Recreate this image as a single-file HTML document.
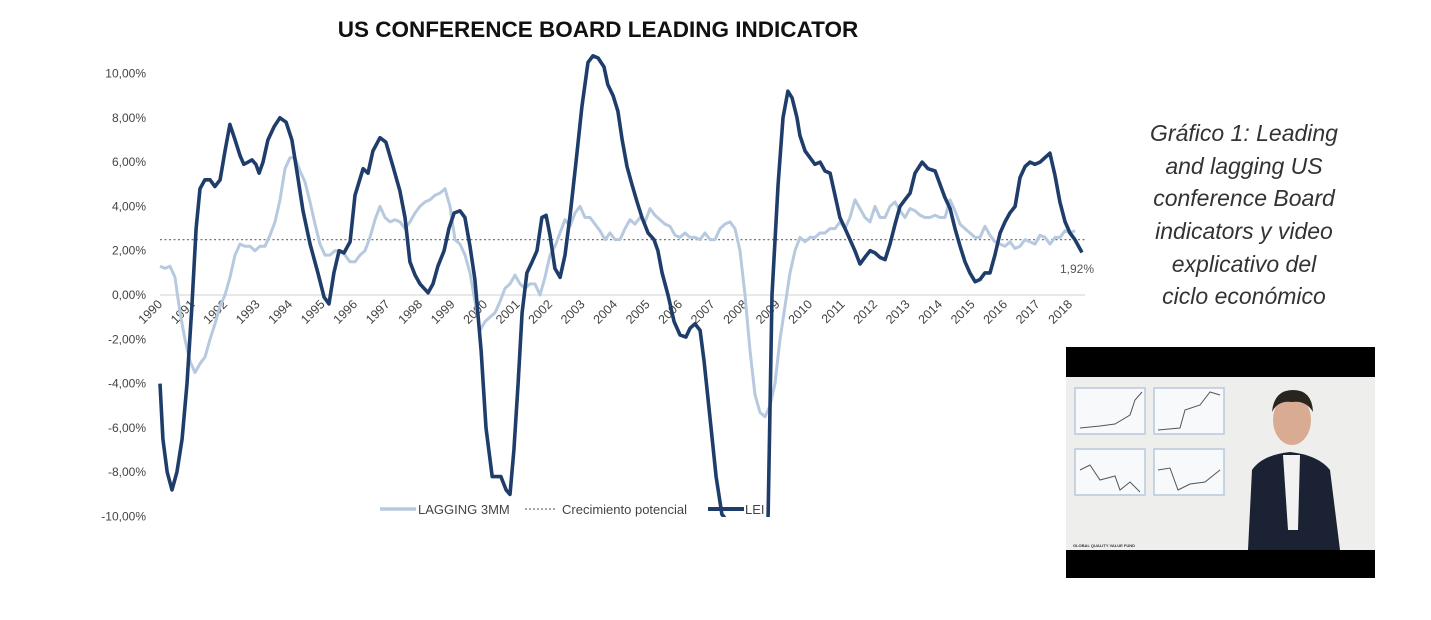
<!DOCTYPE html>
<html><head><meta charset="utf-8">
<style>
body{margin:0;background:#fff;width:1431px;height:615px;overflow:hidden;font-family:"Liberation Sans",sans-serif;}
</style></head>
<body>
<svg width="1431" height="615" viewBox="0 0 1431 615" xmlns="http://www.w3.org/2000/svg">
<defs><clipPath id="plot"><rect x="150" y="40" width="950" height="477"/></clipPath></defs>
<text x="598" y="37" text-anchor="middle" font-size="22.5" font-weight="bold" fill="#111">US CONFERENCE BOARD LEADING INDICATOR</text>
<g id="yaxis"></g>
<g id="xaxis"></g>
<g id="series" clip-path="url(#plot)"></g>
<text x="1060" y="273" font-size="12" fill="#555">1,92%</text>
<g>
 <g><line x1="380" y1="509" x2="416" y2="509" stroke="#b7c9de" stroke-width="3.5"/><text x="418" y="514" font-size="13" fill="#444">LAGGING 3MM</text></g>
 <g><line x1="525" y1="509" x2="555" y2="509" stroke="#777" stroke-width="1.3" stroke-dasharray="2,2"/><text x="562" y="514" font-size="13" fill="#444">Crecimiento potencial</text></g>
 <g><line x1="708" y1="509" x2="744" y2="509" stroke="#1f3d6b" stroke-width="4"/><text x="745" y="514" font-size="13" fill="#444">LEI</text></g>
</g>
<g font-family="'Liberation Sans',sans-serif" font-style="italic" font-size="23" fill="#333" text-anchor="middle">
 <text x="1244" y="141">Gráfico 1: Leading</text>
 <text x="1244" y="174">and lagging US</text>
 <text x="1244" y="206">conference Board</text>
 <text x="1244" y="239">indicators y video</text>
 <text x="1244" y="272">explicativo del</text>
 <text x="1244" y="304">ciclo económico</text>
</g>
<g>
 <rect x="1066" y="347" width="309" height="231" fill="#000"/>
 <rect x="1066" y="377" width="309" height="173" fill="#eeeeec"/>
 <g fill="#f7f9fb" stroke="#b9c9dc" stroke-width="1.5">
  <rect x="1075" y="388" width="70" height="46"/><rect x="1154" y="388" width="70" height="46"/>
  <rect x="1075" y="449" width="70" height="46"/><rect x="1154" y="449" width="70" height="46"/>
 </g>
 <polyline points="1080,428 1100,426 1115,424 1130,415 1135,400 1142,392" fill="none" stroke="#555" stroke-width="1"/>
 <polyline points="1158,430 1180,428 1185,410 1200,405 1210,392 1220,395" fill="none" stroke="#555" stroke-width="1"/>
 <polyline points="1080,470 1090,465 1100,480 1115,476 1120,490 1130,482 1140,492" fill="none" stroke="#555" stroke-width="1"/>
 <polyline points="1158,470 1170,468 1178,490 1190,484 1205,482 1220,470" fill="none" stroke="#555" stroke-width="1"/>
 <text x="1073" y="547" font-size="4" font-weight="bold" fill="#333">GLOBAL QUALITY VALUE FUND</text>
 <path d="M1248,550 L1252,470 Q1262,455 1290,452 Q1318,455 1330,470 L1340,550 Z" fill="#1a2233"/>
 <path d="M1283,455 L1300,455 L1298,530 L1288,530 Z" fill="#f2f2f2"/>
 <ellipse cx="1292" cy="420" rx="19" ry="25" fill="#d9ab93"/>
 <path d="M1272,412 Q1274,390 1293,390 Q1312,390 1313,412 Q1306,400 1292,402 Q1278,400 1272,412Z" fill="#2a2420"/>
</g>
<script>
var yTicks=[10,8,6,4,2,0,-2,-4,-6,-8,-10];
var yTickLabels=["10,00%","8,00%","6,00%","4,00%","2,00%","0,00%","-2,00%","-4,00%","-6,00%","-8,00%","-10,00%"];
var years=[1990,1991,1992,1993,1994,1995,1996,1997,1998,1999,2000,2001,2002,2003,2004,2005,2006,2007,2008,2009,2010,2011,2012,2013,2014,2015,2016,2017,2018];
var potential=2.5;
var lagStart=1990, lagStep=5/32.5;
var lagValues=[1.3,1.2,1.3,0.8,-0.8,-2.0,-3.0,-3.5,-3.1,-2.8,-2.0,-1.3,-0.5,0.0,0.8,1.8,2.3,2.2,2.2,2.0,2.2,2.2,2.7,3.3,4.3,5.7,6.2,6.2,5.6,5.1,4.2,3.2,2.3,1.8,1.8,2.0,2.0,1.8,1.5,1.5,1.8,2.0,2.6,3.4,4.0,3.5,3.3,3.4,3.3,3.0,3.3,3.7,4.0,4.2,4.3,4.5,4.6,4.8,4.0,2.5,2.3,1.8,1.0,-0.3,-1.6,-1.2,-1.0,-0.8,-0.3,0.3,0.5,0.9,0.5,0.3,0.5,0.5,0.0,0.8,1.8,2.2,2.8,3.4,3.1,3.7,4.0,3.5,3.5,3.2,2.9,2.5,2.8,2.5,2.5,3.0,3.4,3.2,3.5,3.3,3.9,3.6,3.4,3.2,3.1,2.7,2.6,2.8,2.6,2.6,2.5,2.8,2.5,2.5,3.0,3.2,3.3,3.0,2.0,0.0,-2.5,-4.5,-5.3,-5.5,-5.0,-4.0,-2.0,-0.5,1.0,2.0,2.6,2.4,2.6,2.6,2.8,2.8,3.0,3.0,3.3,3.0,3.5,4.3,3.9,3.5,3.3,4.0,3.5,3.5,4.0,4.2,3.8,3.5,3.9,3.8,3.6,3.5,3.5,3.6,3.5,3.5,4.3,3.8,3.2,3.0,2.8,2.6,2.6,3.1,2.7,2.4,2.3,2.2,2.4,2.1,2.2,2.5,2.4,2.3,2.7,2.6,2.3,2.6,2.6,2.9,2.8,2.9];
var leiYearsSince1990=[0,.09,.22,.37,.52,.68,.83,.98,1.11,1.23,1.38,1.54,1.69,1.85,2.0,2.15,2.31,2.46,2.58,2.71,2.83,2.95,3.05,3.17,3.32,3.51,3.69,3.88,4.06,4.22,4.4,4.62,4.86,5.05,5.2,5.35,5.51,5.66,5.85,6.0,6.25,6.4,6.55,6.77,6.95,7.17,7.38,7.54,7.69,7.85,8.0,8.25,8.4,8.55,8.74,8.89,9.05,9.23,9.38,9.54,9.69,9.88,10.03,10.22,10.37,10.49,10.65,10.77,10.89,11.02,11.14,11.29,11.45,11.6,11.75,11.88,12.0,12.15,12.31,12.46,12.62,12.8,12.98,13.17,13.32,13.48,13.66,13.78,13.94,14.09,14.22,14.37,14.52,14.68,14.83,15.02,15.2,15.32,15.45,15.63,15.82,16.0,16.18,16.31,16.46,16.62,16.74,16.92,17.11,17.29,17.45,17.69,18.46,18.71,18.83,19.02,19.17,19.32,19.45,19.6,19.69,19.85,20.0,20.15,20.31,20.46,20.62,20.77,20.92,21.08,21.23,21.38,21.54,21.69,21.85,22.0,22.15,22.31,22.46,22.62,22.77,22.92,23.08,23.23,23.45,23.63,23.85,24.0,24.15,24.31,24.46,24.62,24.77,24.92,25.08,25.23,25.38,25.54,25.69,25.85,26.0,26.15,26.31,26.46,26.62,26.77,26.92,27.08,27.38,27.54,27.69,27.85,28.0,28.15,28.37];
var leiValues=[-4,-6.5,-8,-8.8,-8,-6.5,-4,-0.5,3,4.8,5.2,5.2,4.9,5.2,6.5,7.7,7.0,6.3,5.9,6.0,6.1,5.9,5.5,6.0,7.0,7.6,8.0,7.8,7.0,5.5,3.8,2.3,1.0,-0.1,-0.4,1.0,2.0,1.9,2.4,4.5,5.7,5.5,6.5,7.1,6.9,5.8,4.7,3.5,1.5,0.9,0.5,0.1,0.5,1.3,2.0,3.0,3.7,3.8,3.5,2.2,0.7,-2.5,-6,-8.2,-8.2,-8.2,-8.8,-9.0,-7,-4,-0.8,1.0,1.5,2.0,3.5,3.6,2.7,1.2,0.8,1.8,3.6,6.0,8.5,10.5,10.8,10.7,10.3,9.5,9.0,8.3,7.0,5.8,5.0,4.2,3.5,2.8,2.5,2.0,1.0,0,-1.2,-1.8,-1.9,-1.5,-1.3,-1.6,-3.0,-5.5,-8.2,-9.9,-10.2,-14,-14,-10,0,5,8,9.2,8.9,8,7.2,6.5,6.2,5.9,6.0,5.6,5.5,4.5,3.5,3.0,2.5,2.0,1.4,1.7,2.0,1.9,1.7,1.6,2.3,3.2,4.0,4.3,4.6,5.5,6.0,5.7,5.6,5.0,4.4,3.9,3.0,2.2,1.5,1.0,0.6,0.7,1.0,1.0,1.8,2.8,3.3,3.7,4.0,5.3,5.8,6.0,5.9,6.0,6.4,5.4,4.2,3.3,2.8,2.5,1.92];

var NS="http://www.w3.org/2000/svg";
function X(t){return 160+(t-1990)*32.5;}
function Y(v){return 295-v*22.15;}
function mk(tag,attrs,parent){var e=document.createElementNS(NS,tag);for(var k in attrs)e.setAttribute(k,attrs[k]);parent.appendChild(e);return e;}
var ya=document.getElementById('yaxis'),xa=document.getElementById('xaxis'),sg=document.getElementById('series');
yTicks.forEach(function(v,i){
  var t=mk('text',{x:146,y:Y(v)+4,'text-anchor':'end','font-size':'12',fill:'#444'},ya);
  
  
  t.textContent=yTickLabels[i];
});
var zl=mk('line',{x1:160,x2:1085,y1:Y(0),y2:Y(0),stroke:'#d0d0d0','stroke-width':1},xa);


years.forEach(function(yr){
  var x=X(yr)+3,y=305;
  var t=mk('text',{x:x,y:y,'text-anchor':'end','font-size':'12.5',fill:'#444',transform:'rotate(-45 '+x+' '+y+')'},xa);
  
  
  t.textContent=String(yr);
});
var pl=mk('line',{x1:160,x2:1085,y1:Y(potential),y2:Y(potential),stroke:'#777','stroke-width':1.3,'stroke-dasharray':'2,2.5'},sg);


var lp=lagValues.map(function(v,i){return X(lagStart+i*lagStep).toFixed(1)+','+Y(v).toFixed(1);}).join(' ');
var lag=mk('polyline',{points:lp,fill:'none',stroke:'#b7c9de','stroke-width':3,'stroke-linejoin':'round'},sg);


var ep=leiValues.map(function(v,i){return X(1990+leiYearsSince1990[i]).toFixed(1)+','+Y(v).toFixed(1);}).join(' ');
var lei=mk('polyline',{points:ep,fill:'none',stroke:'#1f3d6b','stroke-width':3.6,'stroke-linejoin':'round'},sg);


</script>
</svg>
</body></html>
